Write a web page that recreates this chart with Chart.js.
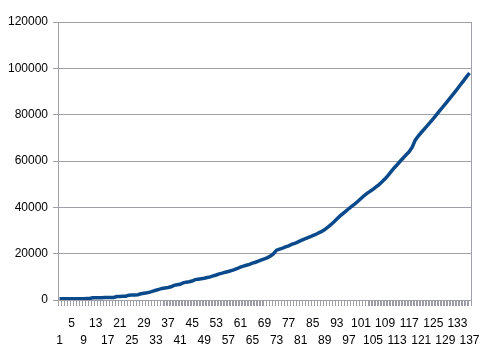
<!DOCTYPE html>
<html>
<head>
<meta charset="utf-8">
<script src="https://cdn.jsdelivr.net/npm/chart.js@4"></script>
<style>
html,body{margin:0;padding:0;background:#fff;}
#wrap{width:494px;height:351px;position:relative;}
</style>
</head>
<body>
<div id="wrap"><canvas id="c" width="494" height="351"></canvas></div>
<script>
const categories = Array.from({length: 137}, (_, i) => String(i + 1));
const seriesValues = [
  500, 510, 520, 530, 540, 550, 560, 570, 590, 600,
  620, 950, 980, 1000, 1020, 1040, 1060, 1080, 1100, 1500,
  1550, 1600, 1650, 2100, 2150, 2200, 2300, 2700, 2900, 3100,
  3400, 3800, 4200, 4600, 5000, 5200, 5400, 5700, 6300, 6600,
  6800, 7400, 7700, 7900, 8200, 8800, 9000, 9200, 9400, 9700,
  10000, 10400, 10800, 11300, 11600, 12000, 12300, 12700, 13100, 13600,
  14200, 14600, 15000, 15400, 15900, 16300, 16800, 17300, 17800, 18300,
  19000, 20000, 21500, 22000, 22400, 22900, 23400, 24000, 24400, 25000,
  25600, 26200, 26700, 27200, 27800, 28300, 29000, 29600, 30400, 31400,
  32500, 33700, 35000, 36200, 37300, 38400, 39500, 40500, 41500, 42600,
  43800, 45000, 46000, 46900, 47800, 48800, 49800, 51000, 52300, 53800,
  55400, 57000, 58400, 59900, 61300, 62700, 64000, 66000, 69000, 70800,
  72300, 73800, 75300, 76800, 78300, 79900, 81500, 83100, 84700, 86300,
  87900, 89500, 91200, 92900, 94600, 96300, 98000
];
const yTicks = [0, 20000, 40000, 60000, 80000, 100000, 120000];

const frameAndTicks = {
  id: 'frameAndTicks',
  afterDraw(chart) {
    const a = chart.chartArea, ctx = chart.ctx, xs = chart.scales.x;
    ctx.save();
    ctx.strokeStyle = '#a0a0a8';
    ctx.lineWidth = 1;
    ctx.beginPath();
    const r = Math.round(a.right) + 0.5;
    ctx.moveTo(r, a.top);
    ctx.lineTo(r, a.bottom);
    const n = categories.length;
    const p0 = xs.getPixelForValue(0);
    const step = xs.getPixelForValue(1) - p0;
    const yb = Math.round(a.bottom);
    for (let i = 0; i <= n; i++) {
      const x = Math.round(p0 - step / 2 + i * step) + 0.5;
      ctx.moveTo(x, yb);
      ctx.lineTo(x, yb + 6);
    }
    ctx.stroke();
    ctx.restore();
  }
};

new Chart(document.getElementById('c'), {
  type: 'line',
  data: {
    labels: categories,
    datasets: [{
      data: seriesValues,
      borderColor: '#0b4a8a',
      borderWidth: 3.5,
      pointRadius: 0,
      tension: 0,
      fill: false
    }]
  },
  options: {
    responsive: false,
    animation: false,
    devicePixelRatio: 1,
    layout: { padding: { left: 0, top: 22, right: 23, bottom: 0 } },
    plugins: { legend: { display: false }, tooltip: { enabled: false } },
    scales: {
      x: {
        type: 'category',
        offset: true,
        grid: { offset: true, display: true, drawOnChartArea: false, drawTicks: true, tickLength: 6, color: '#9a9aa6' },
        border: { display: false },
        ticks: {
          autoSkip: false, maxRotation: 0, minRotation: 0,
          padding: 9,
          color: '#000',
          font: { family: 'Liberation Sans', size: 12, lineHeight: 1.45 },
          callback: function(v, i) {
            const lab = categories[i];
            if (i % 8 === 0) return ['', lab];
            if (i % 8 === 4) return [lab, ''];
            return '';
          }
        },
        afterFit: s => { s.height = 51; }
      },
      y: {
        min: 0, max: 120000,
        afterBuildTicks: s => { s.ticks = yTicks.map(v => ({ value: v })); },
        grid: { color: '#a0a0a8', tickLength: 5, drawTicks: true },
        border: { display: true, color: '#a0a0a8' },
        ticks: {
          color: '#000',
          padding: 5,
          font: { family: 'Liberation Sans', size: 12 },
          callback: v => String(v)
        },
        afterFit: s => { s.width = 58; }
      }
    }
  },
  plugins: [frameAndTicks]
});
</script>
</body>
</html>
